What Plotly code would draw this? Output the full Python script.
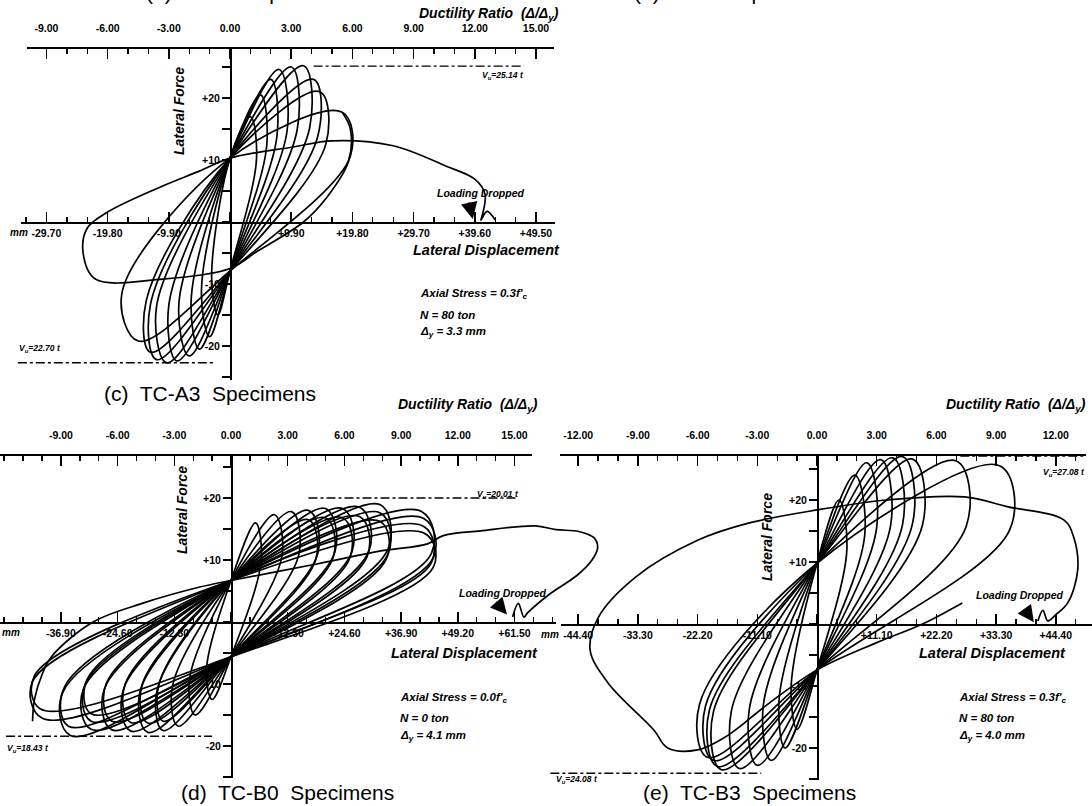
import plotly.graph_objects as go

W, H = 1092, 806

# ---------------- DATA (ductility ratio mu = D/Dy, lateral force in t) ----------------
# Panel (c) TC-A3
c_top_mu   = [1.0, 1.5, 2.0, 2.4, 3.0, 3.6, 4.1, 4.4, 5.5]
c_top_F    = [17.0, 20.5, 23.0, 24.6, 25.0, 25.2, 23.0, 21.0, 17.7]
c_right_mu = [1.3, 1.8, 2.3, 2.8, 3.3, 3.9, 4.3, 4.7, 5.9]
c_bot_mu   = [-0.6, -1.0, -1.5, -2.0, -2.6, -3.1, -3.6, -3.9, -4.5]
c_bot_F    = [-15.0, -18.5, -20.5, -21.6, -22.4, -22.7, -22.2, -21.0, -19.2]
c_left_mu  = [-0.9, -1.4, -1.9, -2.5, -3.0, -3.6, -3.9, -4.1, -5.3]
c_pinch    = [10.3, -7.9]
c_final_mu = [5.5, 5.9, 5.8, 4.8, 3.6, 1.3, 0.0, -3.3, -6.6, -7.2, -7.0, -6.0, -3.3, -1.5,
              0.0, 3.1, 5.0, 8.0, 10.6, 12.0, 12.5, 12.4, 12.3, 12.6, 13.0]
c_final_F  = [17.7, 15.0, 9.7, 4.2, 0.0, -4.8, -7.5, -9.2, -9.2, -5.0, -1.0, 1.6, 5.8, 8.2,
              10.3, 12.1, 13.1, 12.3, 9.0, 6.9, 4.5, 1.5, 0.3, 1.7, 0.3]
c_vu_F     = [25.14, -22.70]
c_vu_from  = [4.1, -10.4]
c_vu_to    = [14.4, -0.7]

# Panel (d) TC-B0
d_top_mu   = [1.3, 2.3, 3.2, 4.1, 5.0, 5.9, 6.8, 7.9, 10.1, 10.2, 4.1, 5.0, 5.9, 6.8, 7.9, 7.9, 10.2, 10.3]
d_top_F    = [16.0, 17.3, 17.8, 18.0, 18.3, 18.3, 18.5, 18.9, 17.8, 16.7, 16.5, 16.8, 16.8, 17.0, 17.6, 16.2, 15.4, 14.2]
d_right_mu = [1.6, 2.7, 3.6, 4.6, 5.5, 6.4, 7.3, 8.3, 10.6, 10.7, 4.5, 5.4, 6.3, 7.2, 8.3, 8.2, 10.6, 10.7]
d_bot_mu   = [-1.0, -1.9, -2.8, -3.6, -4.4, -5.3, -6.3, -7.4, -8.5, -10.0, -3.6, -4.4, -5.3, -6.3, -7.4, -7.4, -8.6, -10.1]
d_bot_F    = [-12.5, -15.0, -16.8, -17.5, -17.8, -17.6, -17.4, -17.3, -18.3, -15.5, -16.0, -16.3, -16.2, -16.0, -16.0, -14.8, -16.8, -14.0]
d_left_mu  = [-1.3, -2.2, -3.1, -3.9, -4.8, -5.7, -6.7, -7.8, -8.9, -10.5, -3.8, -4.7, -5.6, -6.6, -7.7, -7.6, -8.8, -10.4]
d_pinch    = [6.7, -5.6]
d_final_mu = [-10.5, -10.4, -10.0, -9.5, -7.3, -4.7, -1.7, 0.0, 4.6, 8.0, 10.4, 11.2, 13.2, 16.1,
              17.2, 18.4, 19.2, 19.4, 19.1, 18.3, 16.9, 15.7, 15.5, 15.2, 14.9]
d_final_F  = [-16.0, -12.5, -8.5, -5.6, 0.0, 3.0, 5.6, 6.7, 9.4, 11.5, 12.6, 13.9, 14.7, 15.5,
              14.9, 14.6, 13.6, 12.0, 10.0, 7.5, 4.6, 1.5, 0.8, 3.0, 0.8]
d_vu_F     = [20.01, -18.43]
d_vu_from  = [4.1, -11.9]
d_vu_to    = [15.2, -1.0]

# Panel (e) TC-B3
e_top_mu   = [1.1, 1.9, 2.5, 3.2, 3.8, 4.3, 4.8, 7.0, 9.2]
e_top_F    = [20.0, 24.0, 26.0, 26.5, 26.8, 27.0, 26.6, 26.3, 25.5]
e_right_mu = [1.5, 2.4, 3.0, 3.7, 4.3, 4.8, 5.3, 7.5, 9.7]
e_bot_mu   = [-1.0, -1.6, -2.3, -3.0, -3.9, -4.8, -5.0, -5.2, -5.5]
e_bot_F    = [-17.0, -20.0, -22.0, -22.8, -23.3, -23.5, -23.0, -22.0, -21.5]
e_left_mu  = [-1.3, -1.9, -2.7, -3.4, -4.3, -5.2, -5.4, -5.6, -5.9]
e_pinch    = [9.8, -7.4]
e_final_mu = [7.3, 5.3, 3.0, 0.0, -2.5, -4.5, -6.0, -7.5, -8.2, -10.5, -11.4, -11.0, -9.1, -6.0,
              -3.4, 0.0, 3.5, 7.4, 9.6, 12.4, 12.9, 13.1, 12.6, 12.0, 11.6, 11.35, 11.1]
e_final_F  = [3.4, 0.0, -3.0, -7.4, -13.0, -18.0, -20.3, -20.0, -17.1, -9.5, -4.2, 1.0, 7.6, 13.5,
              16.3, 18.4, 20.0, 20.5, 18.9, 16.8, 14.0, 8.7, 3.4, 1.5, 0.5, 2.2, 0.5]
e_vu_F     = [27.08, -24.08]
e_vu_from  = [7.2, -13.4]
e_vu_to    = [13.5, -2.8]

# Tick labels
ce_top_vals = [-9, -6, -3, 0, 3, 6, 9, 12, 15]
ce_top_text = ["-9.00", "-6.00", "-3.00", "0.00", "3.00", "6.00", "9.00", "12.00", "15.00"]
e_top_vals  = [-12, -9, -6, -3, 0, 3, 6, 9, 12]
e_top_text  = ["-12.00", "-9.00", "-6.00", "-3.00", "0.00", "3.00", "6.00", "9.00", "12.00"]
c_bot_text  = ["-29.70", "-19.80", "-9.90", "", "+9.90", "+19.80", "+29.70", "+39.60", "+49.50"]
d_bot_text  = ["-36.90", "-24.60", "-12.30", "", "+12.30", "+24.60", "+36.90", "+49.20", "+61.50"]
e_bot_text  = ["-44.40", "-33.30", "-22.20", "-11.10", "", "+11.10", "+22.20", "+33.30", "+44.40"]
f_vals = [-25, -20, -15, -10, -5, 0, 5, 10, 15, 20, 25, 30]
f_text = ["", "-20", "", "-10", "", "", "", "+10", "", "+20", "", ""]

# ---------------- GEOMETRY (page pixels) ----------------
G = {
    "c": dict(x0=230, y0=222, sx=20.4, sy=6.2, dx=(0, 560), dy=(40, 392), top_y=47,
              top_x=(27, 554), bot_x=(21, 555), f_y=(47, 380)),
    "d": dict(x0=231, y0=622, sx=18.9, sy=6.2, dx=(0, 640), dy=(440, 790), top_y=454,
              top_x=(0, 532), bot_x=(0, 556), f_y=(454, 778)),
    "e": dict(x0=817, y0=624, sx=19.9, sy=6.2, dx=(545, 1092), dy=(440, 790), top_y=454,
              top_x=(560, 1086), bot_x=(561, 1092), f_y=(454, 780)),
}
IDS = {"c": ("x", "y", "x2", "x3", "y2"),
       "d": ("x4", "y3", "x5", "x6", "y4"),
       "e": ("x7", "y5", "x8", "x9", "y6")}

TF = dict(family="Liberation Sans", size=10.5, color="black", weight="bold")


def lk(a):
    return a[0] + "axis" + a[1:]


def xr(g, lo, hi):
    return [(lo - g["x0"]) / g["sx"], (hi - g["x0"]) / g["sx"]]


def yr(g, top, bot):
    return [(g["y0"] - bot) / g["sy"], (g["y0"] - top) / g["sy"]]


fig = go.Figure()
layout = {}

for key in ["c", "d", "e"]:
    g = G[key]
    xd, yd, xb, xt, yf = IDS[key]
    layout[lk(xd)] = dict(domain=[g["dx"][0] / W, g["dx"][1] / W], range=xr(g, *g["dx"]),
                          visible=False, anchor=yd, fixedrange=True)
    layout[lk(yd)] = dict(domain=[1 - g["dy"][1] / H, 1 - g["dy"][0] / H],
                          range=yr(g, g["dy"][0], g["dy"][1]), visible=False, anchor=xd,
                          fixedrange=True)
    if key == "e":
        tv, tt, bv, bt = e_top_vals, e_top_text, e_top_vals, e_bot_text
    else:
        tv, tt, bv = ce_top_vals, ce_top_text, ce_top_vals
        bt = c_bot_text if key == "c" else d_bot_text
    common = dict(showline=True, linecolor="black", linewidth=1.7, showgrid=False,
                  zeroline=False, ticks="inside", ticklen=10, tickwidth=1.5,
                  tickcolor="black", tickmode="array", tickfont=TF, fixedrange=True,
                  anchor="free",
                  minor=dict(ticks="inside", ticklen=5, tickwidth=1.4, tickcolor="black",
                             tickmode="linear", tick0=0, dtick=1, showgrid=False))
    layout[lk(xb)] = dict(domain=[g["bot_x"][0] / W, g["bot_x"][1] / W],
                          range=xr(g, *g["bot_x"]), position=1 - g["y0"] / H,
                          side="bottom", tickvals=bv, ticktext=bt, ticklabelstandoff=1, **common)
    layout[lk(xt)] = dict(domain=[g["top_x"][0] / W, g["top_x"][1] / W],
                          range=xr(g, *g["top_x"]), position=1 - g["top_y"] / H,
                          side="top", tickvals=tv, ticktext=tt, ticklabelstandoff=11, **common)
    layout[lk(yf)] = dict(domain=[1 - g["f_y"][1] / H, 1 - g["f_y"][0] / H],
                          range=yr(g, g["f_y"][0], g["f_y"][1]), anchor="free",
                          position=g["x0"] / W, side="left", showline=True,
                          linecolor="black", linewidth=1.9, showgrid=False, zeroline=False,
                          ticks="outside", ticklen=8, tickwidth=1.5, tickcolor="black",
                          tickmode="array", tickvals=f_vals, ticktext=f_text, tickfont=TF,
                          fixedrange=True)
    for xa in (xb, xt):
        fig.add_trace(go.Scatter(x=[None], y=[None], xaxis=xa, yaxis=yf, mode="lines",
                                 showlegend=False, hoverinfo="skip"))

LINE = dict(color="black", width=1.7, shape="spline", smoothing=1.0)
EDGE = {"c": (0.6, 0.6), "d": (0.62, 0.62), "e": (0.6, 0.6)}


def add_loops(key, tmu, tF, rmu, bmu, bF, lmu, pinch):
    xd, yd = IDS[key][0], IDS[key][1]
    kr, kl = EDGE[key]
    for i in range(len(tmu)):
        xs = [0, bmu[i], lmu[i], 0, tmu[i], rmu[i], 0]
        ys = [pinch[1], bF[i], kl * bF[i], pinch[0], tF[i], kr * tF[i], pinch[1]]
        fig.add_trace(go.Scatter(x=xs, y=ys, xaxis=xd, yaxis=yd, mode="lines", line=LINE,
                                 showlegend=False, hoverinfo="skip"))


def add_path(key, mus, Fs):
    xd, yd = IDS[key][0], IDS[key][1]
    fig.add_trace(go.Scatter(x=mus, y=Fs, xaxis=xd, yaxis=yd, mode="lines", line=LINE,
                             showlegend=False, hoverinfo="skip"))


def add_vu(key, Fv, a, b):
    xd, yd = IDS[key][0], IDS[key][1]
    for i in range(len(Fv)):
        fig.add_trace(go.Scatter(x=[a[i], b[i]], y=[Fv[i], Fv[i]], xaxis=xd, yaxis=yd,
                                 mode="lines", line=dict(color="black", width=1.4, dash="dashdot"),
                                 showlegend=False, hoverinfo="skip"))


add_loops("c", c_top_mu, c_top_F, c_right_mu, c_bot_mu, c_bot_F, c_left_mu, c_pinch)
add_path("c", c_final_mu, c_final_F)
add_vu("c", c_vu_F, c_vu_from, c_vu_to)
add_loops("d", d_top_mu, d_top_F, d_right_mu, d_bot_mu, d_bot_F, d_left_mu, d_pinch)
add_path("d", d_final_mu, d_final_F)
add_vu("d", d_vu_F, d_vu_from, d_vu_to)
add_loops("e", e_top_mu, e_top_F, e_right_mu, e_bot_mu, e_bot_F, e_left_mu, e_pinch)
add_path("e", e_final_mu, e_final_F)
add_vu("e", e_vu_F, e_vu_from, e_vu_to)


def txt(s, x, y, size, xanchor="center", angle=0, bi=True, family="Liberation Sans"):
    t = "<b><i>" + s + "</i></b>" if bi else s
    return dict(text=t, x=x / W, y=1 - y / H, xref="paper", yref="paper", xanchor=xanchor,
                yanchor="middle", showarrow=False, textangle=angle,
                font=dict(family=family, size=size, color="black"))


DR = "Ductility Ratio  (Δ/Δ<sub>y</sub>)"
anns = [
    txt("(a)  TC-A0  Specimens", 252, -7, 21, bi=False),
    txt("(b)  TT-05  Specimens", 737, -7, 21, bi=False),
    # panel c
    txt(DR, 561, 14, 14, "right"),
    txt("Lateral Force", 179, 111, 14, angle=-90),
    txt("Lateral Displacement", 562, 250, 14.5, "right"),
    txt("Loading Dropped", 480, 193, 10.5),
    txt("Axial Stress = 0.3f'<sub>c</sub>", 418, 294, 11.5, "left"),
    txt("N = 80 ton", 418, 315, 11.5, "left"),
    txt("Δ<sub>y</sub> = 3.3 mm", 418, 332, 11.5, "left"),
    txt("V<sub>u</sub>=25.14 t", 526, 75, 8.5, "right"),
    txt("V<sub>u</sub>=22.70 t", 17, 348, 8.5, "left"),
    txt("mm", 30, 232, 10, "right"),
    txt("(c)  TC-A3  Specimens", 210, 393, 21, bi=False),
    # panel d
    txt(DR, 540, 405, 14, "right"),
    txt("Lateral Force", 182, 510, 14, angle=-90),
    txt("Lateral Displacement", 540, 653, 14.5, "right"),
    txt("Loading Dropped", 502, 593, 10.5),
    txt("Axial Stress = 0.0f'<sub>c</sub>", 398, 698, 11.5, "left"),
    txt("N = 0 ton", 398, 718, 11.5, "left"),
    txt("Δ<sub>y</sub> = 4.1 mm", 398, 736, 11.5, "left"),
    txt("V<sub>u</sub>=20.01 t", 521, 494, 8.5, "right"),
    txt("V<sub>u</sub>=18.43 t", 5, 748, 8.5, "left"),
    txt("mm", 0, 632, 10, "left"),
    txt("(d)  TC-B0  Specimens", 287, 792, 21, bi=False),
    # panel e
    txt(DR, 1088, 405, 14, "right"),
    txt("Lateral Force", 767, 537, 14, angle=-90),
    txt("Lateral Displacement", 1068, 653, 14.5, "right"),
    txt("Loading Dropped", 1019, 595, 10.5),
    txt("Axial Stress = 0.3f'<sub>c</sub>", 957, 698, 11.5, "left"),
    txt("N = 80 ton", 957, 718, 11.5, "left"),
    txt("Δ<sub>y</sub> = 4.0 mm", 957, 736, 11.5, "left"),
    txt("V<sub>u</sub>=27.08 t", 1087, 472, 8.5, "right"),
    txt("V<sub>u</sub>=24.08 t", 554, 779, 8.5, "left"),
    txt("mm", 561, 634, 10, "right"),
    txt("(e)  TC-B3  Specimens", 749, 792, 21, bi=False),
]

for key, mx, fy, ax, ay in [("c", 11.9, 0.5, -4, -18), ("d", 14.6, 1.2, -12, -14),
                            ("e", 10.9, 0.3, -10, -14)]:
    xd, yd = IDS[key][0], IDS[key][1]
    anns.append(dict(text="", x=mx, y=fy, xref=xd, yref=yd, showarrow=True, ax=ax, ay=ay,
                     arrowhead=2, arrowsize=2.2, arrowwidth=1.5, arrowcolor="black"))

layout.update(dict(width=W, height=H, margin=dict(l=0, r=0, t=0, b=0),
                   paper_bgcolor="white", plot_bgcolor="rgba(0,0,0,0)", showlegend=False,
                   annotations=anns))
fig.update_layout(**layout)
fig.write_html("out.html", config={"displayModeBar": False, "staticPlot": True},
               post_script="document.body.style.margin='0px';"
                           "document.documentElement.style.overflow='hidden';")
